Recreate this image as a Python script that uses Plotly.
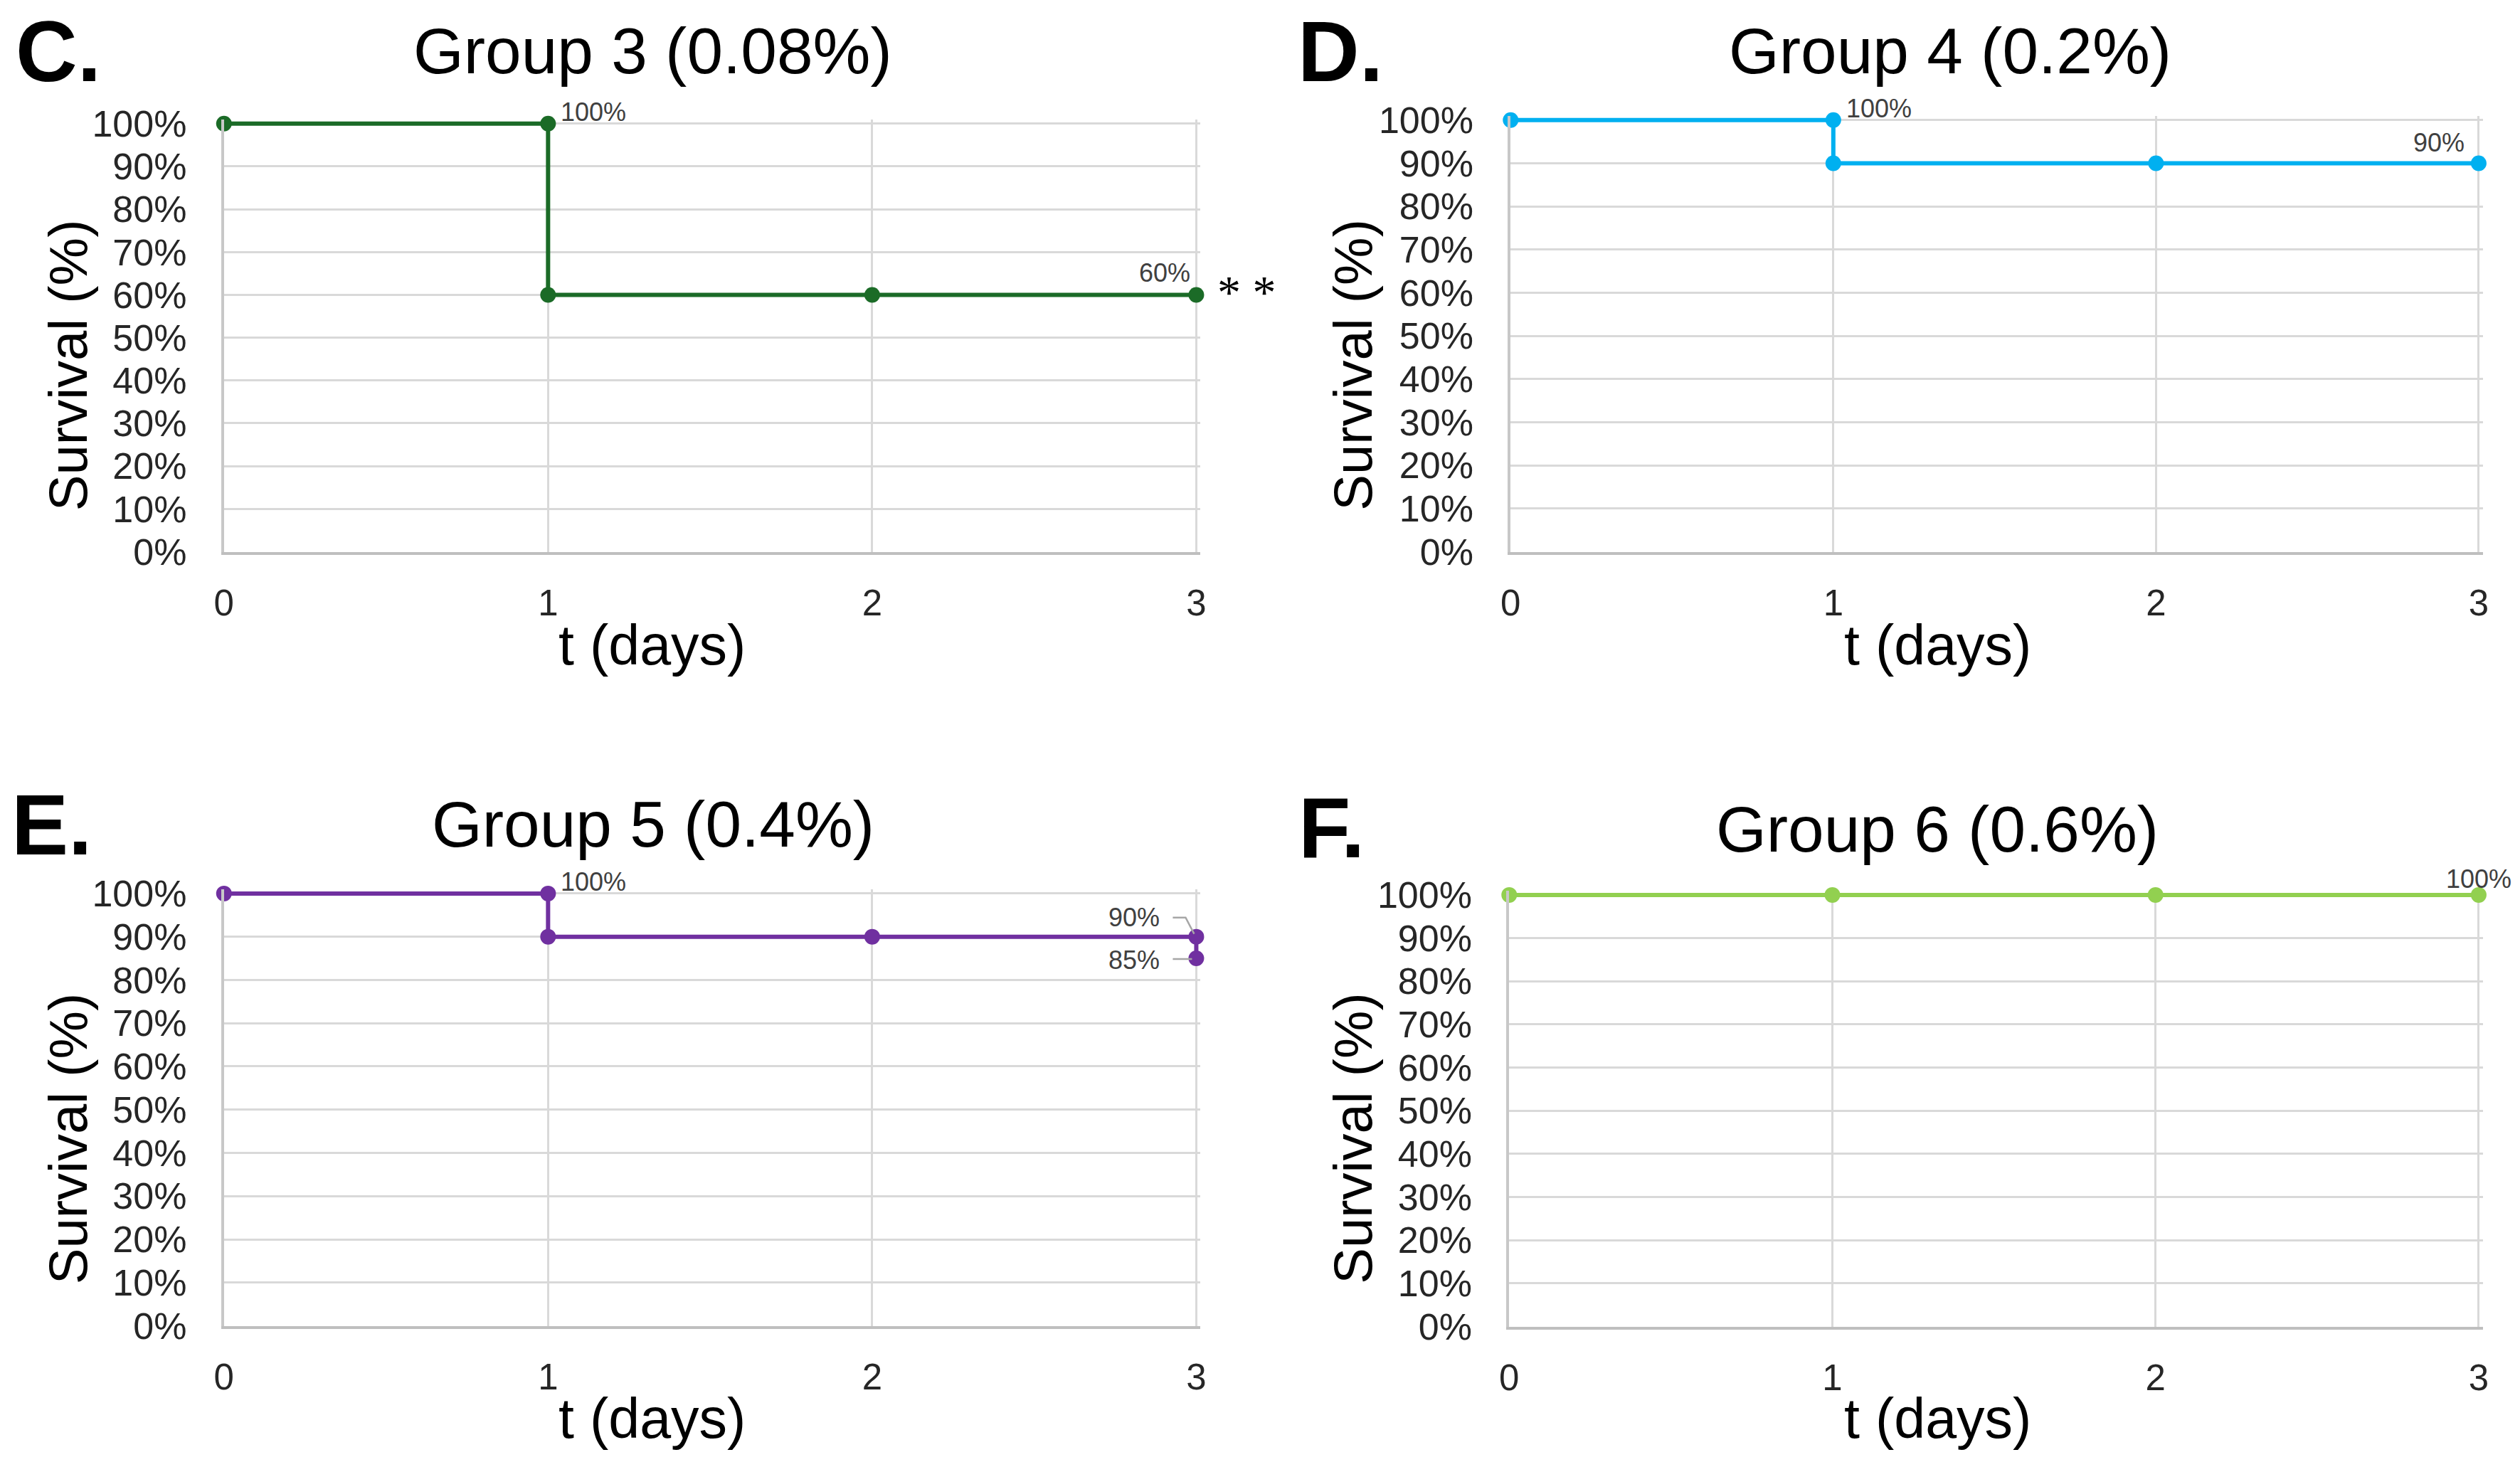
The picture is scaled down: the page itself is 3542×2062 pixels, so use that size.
import plotly.graph_objects as go

# ---------------- data ----------------
group3_days = [0, 1, 1, 2, 3]
group3_surv = [1.00, 1.00, 0.60, 0.60, 0.60]
group4_days = [0, 1, 1, 2, 3]
group4_surv = [1.00, 1.00, 0.90, 0.90, 0.90]
group5_days = [0, 1, 1, 2, 3, 3]
group5_surv = [1.00, 1.00, 0.90, 0.90, 0.90, 0.85]
group6_days = [0, 1, 2, 3]
group6_surv = [1.00, 1.00, 1.00, 1.00]

panel_letters = ["C.", "D.", "E.", "F."]
panel_titles = ["Group 3 (0.08%)", "Group 4 (0.2%)", "Group 5 (0.4%)", "Group 6 (0.6%)"]
colors = ["#1b6b27", "#00b0f0", "#7030a0", "#92d050"]
x_ticks = [0, 1, 2, 3]
y_ticks = [0, 0.1, 0.2, 0.3, 0.4, 0.5, 0.6, 0.7, 0.8, 0.9, 1.0]
x_title = "t (days)"
y_title = "Survival (%)"

series = [(group3_days, group3_surv), (group4_days, group4_surv),
          (group5_days, group5_surv), (group6_days, group6_surv)]

# ---------------- layout geometry (pixels) ----------------
W, H = 3542, 2062

def mx(x):
    # target pixel -> figure pixel
    return x * 1.0082 - 13.9

def my(y):
    return y * 1.0288 - 27.4

def px(x):
    return mx(x) / W

def py(y):
    return 1 - my(y) / H

# plot boxes: (left, right(x=3), top(100%), bottom(0%))
boxes = [(314, 1678, 177, 777), (2119, 3477, 172, 777),
         (314, 1678, 1256, 1862), (2117, 3477, 1258, 1863)]
letter_pos = [(82, 75), (1880, 75), (72, 1159), (1868, 1163)]
title_pos = [(916, 75), (2736, 75), (916, 1159), (2718, 1166)]
ytitle_pos = [(95, 515), (1898, 515), (95, 1599), (1898, 1599)]
xtitle_pos = [(915, 908), (2718, 908), (915, 1992), (2718, 1992)]

FONT = "Liberation Sans"
PAD = 6  # extra pixels beyond x=3 and 100% so the lines on the edge are not clipped

fig = go.Figure()
layout = dict(width=W, height=H, margin=dict(l=0, r=0, t=0, b=0),
              paper_bgcolor="white", plot_bgcolor="white", showlegend=False)

annotations = []
shapes = []
for i, ((xs, ys), col, box) in enumerate(zip(series, colors, boxes)):
    n = "" if i == 0 else str(i + 1)
    fig.add_trace(go.Scatter(x=xs, y=ys, mode="lines+markers",
                             line=dict(color=col, width=6),
                             marker=dict(color=col, size=22),
                             cliponaxis=False,
                             xaxis="x" + n, yaxis="y" + n, hoverinfo="skip"))
    l, r, t, b = box
    xpad = 3.0 * PAD / (r - l)
    ypad = 1.0 * PAD / (b - t)
    layout["xaxis" + n] = dict(domain=[px(l), px(r + PAD)], anchor="y" + n,
                               range=[0, 3 + xpad], tickvals=x_ticks,
                               ticktext=[str(v) for v in x_ticks],
                               showgrid=True, gridcolor="#d9d9d9", gridwidth=3,
                               showline=True, linecolor="#bfbfbf", linewidth=4,
                               zeroline=False, ticks="", ticklabelstandoff=24,
                               tickfont=dict(family=FONT, size=51, color="#262626"))
    layout["yaxis" + n] = dict(domain=[py(b), py(t - PAD)], anchor="x" + n,
                               range=[0, 1 + ypad], tickvals=y_ticks, tickformat=".0%",
                               showgrid=True, gridcolor="#d9d9d9", gridwidth=3,
                               showline=True, linecolor="#c8c8c8", linewidth=4,
                               zeroline=False, ticks="", ticklabelstandoff=38,
                               tickfont=dict(family=FONT, size=52, color="#262626"))
    lx, ly = letter_pos[i]
    annotations.append(dict(text="<b>%s</b>" % panel_letters[i], x=px(lx), y=py(ly),
                            xref="paper", yref="paper", showarrow=False,
                            xanchor="center", yanchor="middle",
                            font=dict(family=FONT, size=120, color="black")))
    tx, ty = title_pos[i]
    annotations.append(dict(text=panel_titles[i], x=px(tx), y=py(ty),
                            xref="paper", yref="paper", showarrow=False,
                            xanchor="center", yanchor="middle",
                            font=dict(family=FONT, size=91, color="black")))
    yx, yy = ytitle_pos[i]
    annotations.append(dict(text=y_title, x=px(yx), y=py(yy), textangle=-90,
                            xref="paper", yref="paper", showarrow=False,
                            xanchor="center", yanchor="middle",
                            font=dict(family=FONT, size=76, color="black")))
    xx, xy = xtitle_pos[i]
    annotations.append(dict(text=x_title, x=px(xx), y=py(xy),
                            xref="paper", yref="paper", showarrow=False,
                            xanchor="center", yanchor="middle",
                            font=dict(family=FONT, size=79, color="black")))

LBL = dict(family=FONT, size=36, color="#404040")

def dlabel(xref, yref, x, y, xanchor, xshift, yshift):
    annotations.append(dict(text="%d%%" % round(y * 100), x=x, y=y, xref=xref, yref=yref,
                            showarrow=False, xanchor=xanchor, yanchor="middle",
                            xshift=xshift, yshift=yshift, font=LBL))

# Group 3 labels
dlabel("x", "y", group3_days[1], group3_surv[1], "left", 16, 16)
dlabel("x", "y", group3_days[-1], group3_surv[-1], "right", -6, 31)
annotations.append(dict(text="* *", x=group3_days[-1], y=group3_surv[-1], xref="x", yref="y",
                        showarrow=False, xanchor="left", yanchor="middle", xshift=28, yshift=4,
                        font=dict(family="Liberation Serif", size=66, color="black")))
# Group 4 labels
dlabel("x2", "y2", group4_days[1], group4_surv[1], "left", 16, 16)
dlabel("x2", "y2", group4_days[-1], group4_surv[-1], "right", -18, 29)
# Group 5 labels
dlabel("x3", "y3", group5_days[1], group5_surv[1], "left", 16, 16)
dlabel("x3", "y3", group5_days[-2], group5_surv[-2], "right", -49, 27)
dlabel("x3", "y3", group5_days[-1], group5_surv[-1], "right", -49, -2)
shapes.append(dict(type="path", xref="x3", yref="y3", xsizemode="pixel", ysizemode="pixel",
                   xanchor=group5_days[-2], yanchor=group5_surv[-2],
                   path="M-33,27 L-15,27 L-3,4", line=dict(color="#a6a6a6", width=2.5)))
shapes.append(dict(type="path", xref="x3", yref="y3", xsizemode="pixel", ysizemode="pixel",
                   xanchor=group5_days[-1], yanchor=group5_surv[-1],
                   path="M-33,-1 L-6,-1", line=dict(color="#a6a6a6", width=2.5)))
# Group 6 label
dlabel("x4", "y4", group6_days[-1], group6_surv[-1], "center", 0, 22)

layout["annotations"] = annotations
layout["shapes"] = shapes
fig.update_layout(**layout)
fig.write_html("out.html", config={"displayModeBar": False},
               post_script="document.body.style.margin='0';document.body.style.overflow='hidden';")
